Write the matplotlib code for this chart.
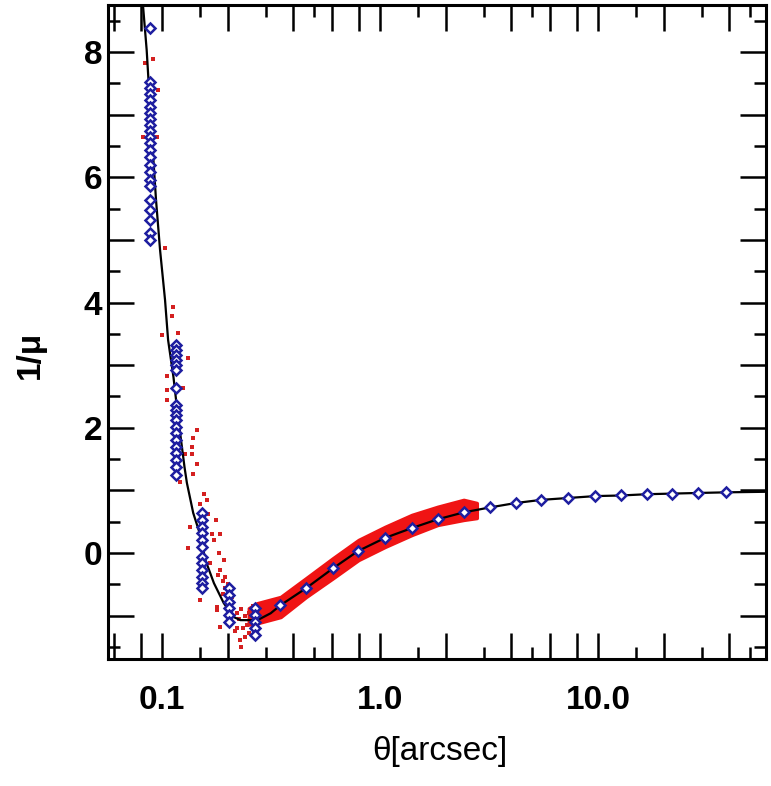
import numpy as np
import matplotlib
matplotlib.use("Agg")
import matplotlib.pyplot as plt
from matplotlib.ticker import FixedLocator, FuncFormatter

plt.rcParams['font.family'] = ['Liberation Sans', 'DejaVu Sans']

# model curve 1/mu vs theta
curve_theta = [0.0815, 0.0850, 0.0896, 0.0938, 0.0979, 0.1032, 0.1066, 0.1128,
               0.1160, 0.1210, 0.1268, 0.1300, 0.1390, 0.1500, 0.1580, 0.1730,
               0.1920, 0.2130, 0.2290, 0.2740, 0.3150, 0.3500, 0.458, 0.61,
               0.79, 1.05, 1.40, 1.84, 2.42, 3.2, 4.2, 5.5, 7.3, 9.7, 12.8,
               16.7, 21.9, 28.8, 38.5, 62.0]
curve_val = [8.80, 8.03, 6.71, 5.64, 4.84, 4.04, 3.40, 2.81,
             2.44, 1.92, 1.37, 1.12, 0.64, 0.28, -0.11, -0.48,
             -0.80, -1.02, -1.07, -1.07, -0.96, -0.83, -0.56, -0.24,
             0.03, 0.24, 0.40, 0.54, 0.65, 0.73, 0.80, 0.85, 0.88, 0.91, 0.92,
             0.94, 0.95, 0.96, 0.97, 0.98]

# blue diamonds: columns of images at small theta, then single points
col1_val = [8.39, 7.52, 7.43, 7.33, 7.24, 7.12, 7.03, 6.93, 6.84, 6.74, 6.65,
            6.55, 6.44, 6.33, 6.20, 6.09, 5.96, 5.86, 5.64, 5.48, 5.32, 5.11, 5.00]
col2_val = [3.32, 3.24, 3.16, 3.08, 3.00, 2.92, 2.64, 2.36, 2.28, 2.20, 2.12,
            2.01, 1.92, 1.80, 1.69, 1.60, 1.49, 1.37, 1.25]
col3_val = [0.64, 0.53, 0.42, 0.32, 0.21, 0.10, -0.06, -0.16, -0.27, -0.38,
            -0.48, -0.56]
col4_val = [-0.56, -0.67, -0.78, -0.88, -0.99, -1.10]
col5_val = [-0.88, -0.99, -1.10, -1.20, -1.31]
col_theta = [0.088, 0.116, 0.152, 0.2025, 0.266]

single_theta = [0.347, 0.458, 0.61, 0.79, 1.05, 1.40, 1.84, 2.42, 3.2, 4.2,
                5.5, 7.3, 9.7, 12.8, 16.7, 21.9, 28.8, 38.5]
single_val = [-0.83, -0.56, -0.24, 0.03, 0.24, 0.40, 0.54, 0.65, 0.73, 0.80,
              0.85, 0.88, 0.91, 0.92, 0.94, 0.95, 0.96, 0.97]

# dense red band of simulated points
band_theta = [0.25, 0.273, 0.35, 0.458, 0.609, 0.797, 1.056, 1.40, 1.84, 2.42, 2.78]
band_lo = [-1.14, -1.12, -1.02, -0.70, -0.40, -0.11, 0.10, 0.29, 0.45, 0.53, 0.56]
band_hi = [-0.88, -0.80, -0.70, -0.40, -0.08, 0.21, 0.42, 0.61, 0.74, 0.85, 0.80]

# sparse red points
dots_theta = [0.0834, 0.091, 0.0962, 0.082, 0.0945, 0.103, 0.1128, 0.1108,
              0.0997, 0.1189, 0.105, 0.131, 0.105, 0.1254, 0.105, 0.145,
              0.139, 0.137, 0.128, 0.137, 0.145, 0.139, 0.121, 0.155, 0.161,
              0.150, 0.135, 0.163, 0.176, 0.185, 0.169, 0.173, 0.132, 0.182,
              0.192, 0.166, 0.185, 0.195, 0.150, 0.179, 0.185, 0.179, 0.229,
              0.24, 0.23, 0.215, 0.235, 0.25, 0.19, 0.20, 0.21, 0.22, 0.225,
              0.23, 0.24, 0.245, 0.25, 0.255, 0.26, 0.265, 0.21, 0.22, 0.18,
              0.19, 0.195]
dots_val = [7.83, 7.88, 7.40, 6.65, 6.65, 4.87, 3.93, 3.78,
            3.48, 3.51, 2.82, 3.11, 2.60, 2.63, 2.44, 1.96,
            1.83, 1.59, 1.59, 1.70, 1.43, 1.27, 1.14, 0.95, 0.85,
            0.79, 0.42, 0.63, 0.53, 0.31, 0.31, 0.21, 0.08, 0.00,
            -0.11, -0.16, -0.27, -0.38, -0.75, -0.86, -1.18, -0.91, -1.39,
            -1.34, -1.50, -1.25, -1.20, -1.28, -0.65, -0.50, -0.70, -0.95, -1.05,
            -0.90, -1.00, -1.15, -0.95, -1.05, -0.85, -1.20, -1.10, -1.20, -0.35,
            -0.45, -0.55]

xticks_major = [0.06, 0.08, 0.1, 0.2, 0.4, 0.6, 0.8, 1.0, 2, 4, 6, 8, 10, 20, 40]
xticks_minor = [0.15, 0.3, 0.5, 1.5, 3, 5, 15, 30, 50]
xtick_labels = {0.1: '0.1', 1.0: '1.0', 10: '10.0'}

fig = plt.figure(figsize=(7.71, 7.86), dpi=100)
ax = fig.add_axes([0.1401, 0.1616, 0.8534, 0.8321])

ax.fill_between(band_theta, band_lo, band_hi, color='#f01414', lw=2.5,
                edgecolor='#f01414', zorder=2)
ax.plot(dots_theta, dots_val, 's', ms=2.4, color='#d42020', mew=0, zorder=2)
ax.plot(curve_theta, curve_val, color='black', lw=1.6, zorder=3)

cols = [col1_val, col2_val, col3_val, col4_val, col5_val]
diam_theta = []
diam_val = []
for t, vals in zip(col_theta, cols):
    diam_theta += [t] * len(vals)
    diam_val += vals
diam_theta += single_theta
diam_val += single_val
ax.plot(diam_theta, diam_val, 'D', ms=5, mfc='white', mec='#1e1ea0', mew=1.8,
        zorder=4)

ax.set_xscale('log')
ax.set_xlim(0.0565, 59)
ax.set_ylim(-1.69, 8.75)

ax.xaxis.set_major_locator(FixedLocator(xticks_major))
ax.xaxis.set_minor_locator(FixedLocator(xticks_minor))
ax.xaxis.set_major_formatter(FuncFormatter(
    lambda v, p: next((s for k, s in xtick_labels.items() if abs(v - k) < 1e-9), '')))
ax.xaxis.set_minor_formatter(FuncFormatter(lambda v, p: ''))

ax.yaxis.set_major_locator(FixedLocator(np.arange(-1, 9, 1)))
ax.yaxis.set_minor_locator(FixedLocator(np.arange(-1.5, 9, 1)))
ax.yaxis.set_major_formatter(FuncFormatter(
    lambda v, p: '%d' % v if int(round(v)) % 2 == 0 else ''))

ax.tick_params(which='both', direction='in', top=True, right=True, width=1.8)
ax.tick_params(which='major', length=19)
ax.tick_params(which='minor', length=8.5)
ax.tick_params(axis='x', which='major', pad=19, labelsize=24)
ax.tick_params(axis='y', which='major', pad=4, labelsize=24)
for lab in ax.get_xticklabels() + ax.get_yticklabels():
    lab.set_fontweight('bold')

for s in ax.spines.values():
    s.set_linewidth(2.2)

ax.set_xlabel('θ[arcsec]', fontsize=24, va='center')
ax.xaxis.set_label_coords(0.505, -0.142)
ax.set_ylabel('1/μ', fontsize=24, fontweight='bold', va='center')
ax.yaxis.set_label_coords(-0.1185, 0.465)

fig.savefig('out.png', dpi=100)
